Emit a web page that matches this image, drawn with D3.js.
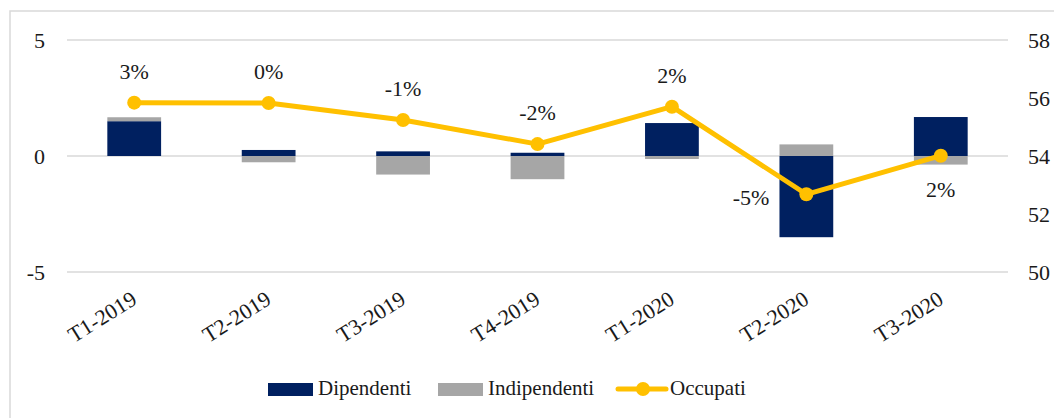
<!DOCTYPE html>
<html><head><meta charset="utf-8">
<script src="https://cdn.jsdelivr.net/npm/d3@7"></script>
<style>
html,body{margin:0;padding:0;background:#fff;}
svg{display:block;}
svg text{font-family:"Liberation Serif","DejaVu Serif","Noto Serif",serif !important;}
</style></head>
<body>
<svg id="c" width="1054" height="418"></svg>
<script>
const categories = ["T1-2019","T2-2019","T3-2019","T4-2019","T1-2020","T2-2020","T3-2020"];
const dipendenti = [1.50, 0.26, 0.20, 0.14, 1.42, -3.50, 1.68];
const indipendenti = [0.17, -0.27, -0.80, -1.00, -0.13, 0.50, -0.37];
const occupati = [55.84, 55.83, 55.24, 54.41, 55.70, 52.68, 54.01];
const occupatiLabels = ["3%","0%","-1%","-2%","2%","-5%","2%"];
const leftTicks = [-5, 0, 5];
const rightTicks = [50, 52, 54, 56, 58];
const labelPos = ["above","above","above","above","above","left","below"];

const FONT = "Liberation Serif, DejaVu Serif, serif";
const NAVY = "#002060", GRAY = "#A6A6A6", GOLD = "#FFC000", GRID = "#D9D9D9", INK = "#1a1a1a";
const svg = d3.select("#c");
const L = 67, R = 1008, T = 40, B = 272;

svg.append("rect").attr("x",10).attr("y",11).attr("width",1200).attr("height",600)
  .attr("fill","none").attr("stroke",GRID).attr("stroke-width",1.5);

const x = d3.scaleBand().domain(categories).range([L,R]).paddingInner(0.6).paddingOuter(0.3);
const yL = d3.scaleLinear().domain([-5,5]).range([B,T]);
const yR = d3.scaleLinear().domain([50,58]).range([B,T]);
const cx = d => x(d) + x.bandwidth()/2;

svg.append("g").selectAll("line").data(leftTicks).join("line")
  .attr("x1",L).attr("x2",R).attr("y1",d=>yL(d)).attr("y2",d=>yL(d))
  .attr("stroke",GRID).attr("stroke-width",1.5);

const axL = svg.append("g").attr("transform",`translate(${L-22},0)`)
  .call(d3.axisLeft(yL).tickValues(leftTicks).tickSize(0).tickPadding(0).tickFormat(d=>String(d)));
const axR = svg.append("g").attr("transform",`translate(${R+20},0)`)
  .call(d3.axisRight(yR).tickValues(rightTicks).tickSize(0).tickPadding(0).tickFormat(d=>String(d)));
[axL, axR].forEach(a=>{
  a.attr("font-family",FONT).attr("font-size",22);
  a.select(".domain").remove();
  a.selectAll("text").attr("fill",INK);
});

const table = categories.map((c,i)=>({cat:c, Dipendenti:dipendenti[i], Indipendenti:indipendenti[i]}));
const stack = d3.stack().keys(["Dipendenti","Indipendenti"]).offset(d3.stackOffsetDiverging)(table);
const colors = {Dipendenti:NAVY, Indipendenti:GRAY};
svg.append("g").selectAll("g").data(stack).join("g").attr("fill",d=>colors[d.key])
  .selectAll("rect").data(d=>d).join("rect")
  .attr("x",d=>x(d.data.cat)).attr("width",x.bandwidth())
  .attr("y",d=>yL(Math.max(d[0],d[1]))).attr("height",d=>Math.abs(yL(d[0])-yL(d[1])));

svg.append("g").attr("font-family",FONT).selectAll("text").data(categories).join("text")
  .attr("transform",d=>`translate(${cx(d)+4},303) rotate(-32)`)
  .attr("text-anchor","end").attr("font-size",22).attr("fill",INK).text(d=>d);

const pts = categories.map((c,i)=>({cat:c, v:occupati[i], lab:occupatiLabels[i], pos:labelPos[i]}));
svg.append("path").datum(pts)
  .attr("d", d3.line().x(d=>cx(d.cat)).y(d=>yR(d.v)))
  .attr("fill","none").attr("stroke",GOLD).attr("stroke-width",5).attr("stroke-linejoin","round");
svg.append("g").selectAll("circle").data(pts).join("circle")
  .attr("cx",d=>cx(d.cat)).attr("cy",d=>yR(d.v)).attr("r",7).attr("fill",GOLD);

svg.append("g").attr("font-family",FONT).selectAll("text").data(pts).join("text")
  .attr("font-size",22).attr("fill",INK)
  .attr("text-anchor",d=>d.pos==="left"?"end":"middle")
  .attr("x",d=>d.pos==="left"?cx(d.cat)-37:cx(d.cat))
  .attr("y",d=>d.pos==="above"?yR(d.v)-24:(d.pos==="below"?yR(d.v)+41:yR(d.v)+11))
  .text(d=>d.lab);

const lg = svg.append("g").attr("font-family",FONT).attr("font-size",21).attr("fill",INK);
lg.append("rect").attr("x",268).attr("y",383).attr("width",45).attr("height",13).attr("fill",NAVY);
lg.append("text").attr("x",318).attr("y",395).text("Dipendenti");
lg.append("rect").attr("x",438).attr("y",383).attr("width",45).attr("height",13).attr("fill",GRAY);
lg.append("text").attr("x",488).attr("y",395).text("Indipendenti");
lg.append("line").attr("x1",618).attr("x2",666).attr("y1",389).attr("y2",389).attr("stroke",GOLD).attr("stroke-width",5).attr("stroke-linecap","round");
lg.append("circle").attr("cx",643).attr("cy",389).attr("r",7).attr("fill",GOLD);
lg.append("text").attr("x",670).attr("y",395).text("Occupati");
</script>
</body></html>
